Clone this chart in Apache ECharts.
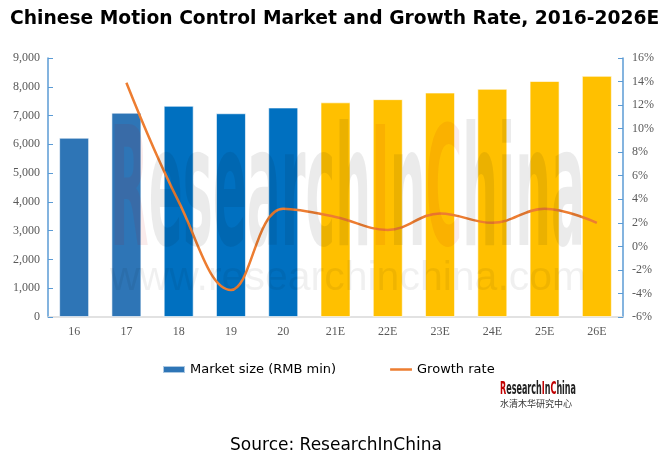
<!DOCTYPE html>
<html><head><meta charset="utf-8">
<script src="https://cdn.jsdelivr.net/npm/echarts@6/dist/echarts.min.js"></script>
<style>html,body{margin:0;padding:0;background:#fff}#c{width:672px;height:463px}</style>
</head><body><div id="c"></div>
<script>
const categories = ['16','17','18','19','20','21E','22E','23E','24E','25E','26E'];
const marketSize = [6230, 7100, 7340, 7080, 7280, 7460, 7570, 7800, 7930, 8200, 8380];
const growthRate = [null, 13.9, 3.8, -3.7, 3.2, 2.5, 1.4, 2.8, 2.0, 3.2, 2.0];
const barColors = ['#2E75B6','#2E75B6','#0070C0','#0070C0','#0070C0','#FFC000','#FFC000','#FFC000','#FFC000','#FFC000','#FFC000'];
const leftTicks = {min:0, max:9000, interval:1000};
const rightTicks = {min:-6, max:16, interval:2};

function measure(font, text){
  const c = document.createElement('canvas').getContext('2d');
  c.font = font; return c.measureText(text).width;
}
const wmFont = 'bold 165px "DejaVu Sans Condensed"';
const wmScale = 475 / measure(wmFont, 'ResearchInChina');
const logoFont = 'bold 17px "DejaVu Sans Condensed"';
const logoScale = 76 / measure(logoFont, 'ResearchInChina');

const chart = echarts.init(document.getElementById('c'), null, {renderer:'canvas'});
const axisLabelStyle = {fontFamily:'Liberation Serif', fontSize:12, color:'#595959'};
chart.setOption({
  animation:false,
  title:{text:'Chinese Motion Control Market and Growth Rate, 2016-2026E', left:5, top:5,
    textStyle:{fontFamily:'DejaVu Sans', fontWeight:'bold', fontSize:18.7, color:'#000'}},
  grid:{left:48, right:49, top:58, bottom:146},
  legend:{left:157, top:358, itemWidth:22, itemHeight:7, itemGap:54,
    textStyle:{fontFamily:'DejaVu Sans', fontSize:13, color:'#000'},
    data:[{name:'Market size (RMB min)', icon:'rect'},
          {name:'Growth rate', icon:'path://M0,2.2H22V4.8H0Z M0,0H0.05V0.05H0Z M0,7H0.05V7.05H0Z'}]},
  xAxis:{type:'category', data:categories,
    axisLine:{lineStyle:{color:'#D9D9D9', width:1.5}}, axisTick:{show:false},
    axisLabel:Object.assign({margin:9}, axisLabelStyle)},
  yAxis:[
    {type:'value', min:leftTicks.min, max:leftTicks.max, interval:leftTicks.interval,
     splitLine:{show:false},
     axisLine:{show:true, lineStyle:{color:'#5B9BD5', width:1.5}},
     axisTick:{show:true, inside:true, length:5, lineStyle:{color:'#5B9BD5'}},
     axisLabel:Object.assign({margin:8, formatter:v=>v.toLocaleString('en-US')}, axisLabelStyle)},
    {type:'value', min:rightTicks.min, max:rightTicks.max, interval:rightTicks.interval,
     splitLine:{show:false}, position:'right',
     axisLine:{show:true, lineStyle:{color:'#5B9BD5', width:1.5}},
     axisTick:{show:true, inside:true, length:5, lineStyle:{color:'#5B9BD5'}},
     axisLabel:Object.assign({margin:9, formatter:v=>v+'%'}, axisLabelStyle)}
  ],
  series:[
    {name:'Market size (RMB min)', type:'bar', barWidth:30,
     itemStyle:{color:'#2E75B6', borderColor:'rgba(255,255,255,0.6)', borderWidth:1},
     data:marketSize.map((v,i)=>({value:v, itemStyle:{color:barColors[i]}}))},
    {name:'Growth rate', type:'line', yAxisIndex:1, smooth:0.4, symbol:'none',
     lineStyle:{color:'#ED7D31', width:2.5}, itemStyle:{color:'#ED7D31'},
     data:growthRate, z:5}
  ],
  graphic:[
    {type:'text', left:'center', top:437, style:{text:'Source: ResearchInChina',
      font:'17px "DejaVu Sans"', fill:'#000'}},
    {type:'text', x:500, y:381, scaleX:logoScale, style:{
      text:'{r|R}{b|esearch}{r|I}{b|n}{r|C}{b|hina}',
      rich:{r:{fill:'#C00000', font:logoFont},
            b:{fill:'#222', font:logoFont}}}},
    {type:'text', x:500, y:399, style:{text:'水清木华研究中心', font:'9px "Noto Sans CJK SC"', fill:'#333'}},
    {type:'text', x:110, y:120, z:100, scaleX:wmScale, style:{
      text:'{r|R}{b|esearch}{r|I}{b|n}{r|C}{b|hina}', opacity:0.08,
      rich:{r:{fill:'#C00000', font:wmFont},
            b:{fill:'#000', font:wmFont}}}},
    {type:'text', x:110, y:258, z:100, style:{text:'www.researchinchina.com',
      font:'41px "Liberation Sans"', fill:'rgba(0,0,0,0.06)'}}
  ]
});
</script></body></html>
